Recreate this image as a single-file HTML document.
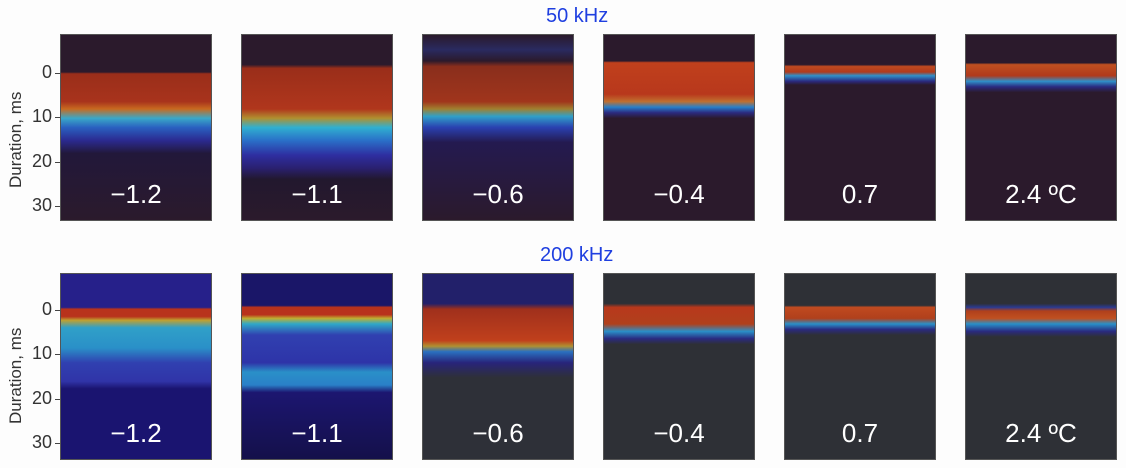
<!DOCTYPE html>
<html><head><style>
body{margin:0;width:1126px;height:468px;background:#fdfdfd;position:relative;overflow:hidden;font-family:"Liberation Sans",sans-serif}
.p{position:absolute;width:152px;height:187px;border:1px solid #555;box-sizing:border-box}
.l{position:absolute;left:0;right:0;bottom:10px;text-align:center;color:#fff;font-size:26px}
.t{position:absolute;color:#1f3fe0;font-size:20px}
.yl{position:absolute;font-size:17px;color:#333;transform:rotate(-90deg);transform-origin:left top;white-space:nowrap}
.tk{position:absolute;font-size:18px;color:#333;text-align:right;width:32px}
.tm{position:absolute;width:5px;height:1px;background:#444}
</style></head><body>
<div class="t" style="left:546px;top:5px">50 kHz</div>
<div class="t" style="left:540px;top:244px">200 kHz</div>
<div class="yl" style="left:6px;top:188px">Duration, ms</div>
<div class="yl" style="left:6px;top:424px">Duration, ms</div>

<div class="tk" style="left:20px;top:62px">0</div><div class="tm" style="left:55px;top:73px"></div>
<div class="tk" style="left:20px;top:106px">10</div><div class="tm" style="left:55px;top:117px"></div>
<div class="tk" style="left:20px;top:151px">20</div><div class="tm" style="left:55px;top:162px"></div>
<div class="tk" style="left:20px;top:195px">30</div><div class="tm" style="left:55px;top:206px"></div>
<div class="tk" style="left:20px;top:299px">0</div><div class="tm" style="left:55px;top:310px"></div>
<div class="tk" style="left:20px;top:343px">10</div><div class="tm" style="left:55px;top:354px"></div>
<div class="tk" style="left:20px;top:388px">20</div><div class="tm" style="left:55px;top:399px"></div>
<div class="tk" style="left:20px;top:432px">30</div><div class="tm" style="left:55px;top:443px"></div>

<!-- top row -->
<div class="p" style="left:60px;top:34px;background:linear-gradient(#2b1a2c 0,#2b1a2c 20%,#9a2e1a 21%,#a8331c 36%,#c86a20 40%,#3aa8c8 45%,#2a60c0 50%,#2b2a90 57%,#22183a 64%,#2b1a2c 100%)"><div class="l">−1.2</div></div>
<div class="p" style="left:241px;top:34px;background:linear-gradient(#2b1a2c 0,#2b1a2c 16%,#9a2e1a 18%,#b0361c 40%,#b09030 45%,#30b0d0 50%,#2a70c8 57%,#2e2ea0 65%,#2a2070 72%,#22182e 78%,#2b1a2c 100%)"><div class="l">−1.1</div></div>
<div class="p" style="left:422px;top:34px;background:linear-gradient(#2b1a2c 0,#2a2a60 8%,#2b1a2c 14%,#8a2e1c 17%,#a0351c 36%,#a08030 40%,#30a0c8 44%,#2a40b0 50%,#241a50 58%,#2b1a2c 100%)"><div class="l">−0.6</div></div>
<div class="p" style="left:603px;top:34px;background:linear-gradient(#2b1a2c 0,#2b1a2c 14%,#c0401c 15%,#b8381c 32%,#c07030 36%,#2a80c8 39%,#2b2a80 42%,#2b1a2c 45%,#2b1a2c 100%)"><div class="l">−0.4</div></div>
<div class="p" style="left:784px;top:34px;background:linear-gradient(#2b1a2c 0,#2b1a2c 16%,#c04a20 17%,#b03a1c 20%,#3090c8 22%,#2b2a80 25%,#2b1a2c 27%,#2b1a2c 100%)"><div class="l">0.7</div></div>
<div class="p" style="left:965px;top:34px;background:linear-gradient(#2b1a2c 0,#2b1a2c 15%,#c05020 16%,#b03a1c 22%,#3090c8 25%,#2b2a80 28%,#2b1a2c 31%,#2b1a2c 100%)"><div class="l">2.4 ºC</div></div>

<!-- bottom row -->
<div class="p" style="left:60px;top:273px;background:linear-gradient(#26208a 0,#26208a 18%,#b8321c 19%,#b8321c 23%,#c0a030 25%,#30a0c8 29%,#2a90c8 40%,#3040b0 48%,#3034a8 58%,#1a1470 62%,#1a1470 100%)"><div class="l">−1.2</div></div>
<div class="p" style="left:241px;top:273px;background:linear-gradient(#1a1668 0,#1a1668 17%,#b8321c 18%,#b8321c 22%,#c0b030 24%,#30a8c8 27%,#3040b0 33%,#2e34a8 48%,#2a90c8 53%,#2a80c8 60%,#1c1670 64%,#14104a 100%)"><div class="l">−1.1</div></div>
<div class="p" style="left:422px;top:273px;background:linear-gradient(#22206a 0,#22206a 16%,#a0301c 19%,#c0401c 36%,#b09030 39%,#2a70c0 42%,#28247a 48%,#2e3038 56%,#2e3038 100%)"><div class="l">−0.6</div></div>
<div class="p" style="left:603px;top:273px;background:linear-gradient(#2e3036 0,#2e3036 16%,#b8381c 18%,#b0401c 27%,#2a90c8 31%,#2a2a80 35%,#2e3036 38%,#2e3036 100%)"><div class="l">−0.4</div></div>
<div class="p" style="left:784px;top:273px;background:linear-gradient(#2e3036 0,#2e3036 17%,#c04a20 18%,#b0401c 24%,#2a90c8 27%,#2a2a80 30%,#2e3036 33%,#2e3036 100%)"><div class="l">0.7</div></div>
<div class="p" style="left:965px;top:273px;background:linear-gradient(#2e3036 0,#2e3036 16%,#2a3a90 18%,#b0401c 20%,#c05020 24%,#2a90c8 27%,#2a2a80 31%,#2e3036 34%,#2e3036 100%)"><div class="l">2.4 ºC</div></div>
</body></html>
